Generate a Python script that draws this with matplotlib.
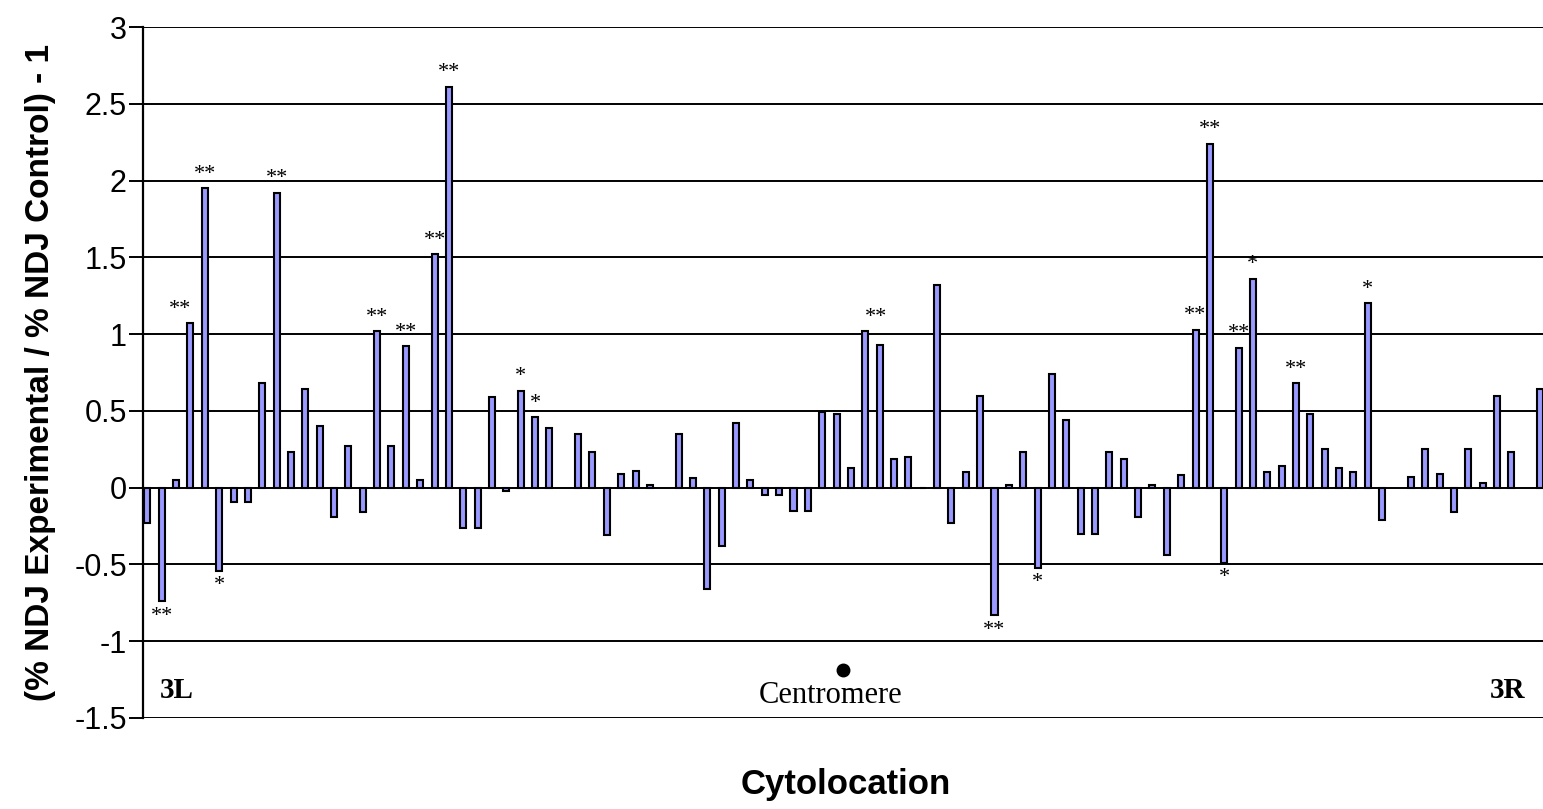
import numpy as np
import matplotlib
matplotlib.use("Agg")
import matplotlib.pyplot as plt

# one value per cytolocation slot, None = no data
values = [
    -0.23, -0.74, 0.05, 1.07, 1.95, -0.54, -0.09, -0.09, 0.68, 1.92,
    0.23, 0.64, 0.40, -0.19, 0.27, -0.16, 1.02, 0.27, 0.92, 0.05,
    1.52, 2.61, -0.26, -0.26, 0.59, -0.02, 0.63, 0.46, 0.39, None,
    0.35, 0.23, -0.31, 0.09, 0.11, 0.02, None, 0.35, 0.06, -0.66,
    -0.38, 0.42, 0.05, -0.05, -0.05, -0.15, -0.15, 0.49, 0.48, 0.13,
    1.02, 0.93, 0.19, 0.20, 0.00, 1.32, -0.23, 0.10, 0.60, -0.83,
    0.02, 0.23, -0.52, 0.74, 0.44, -0.30, -0.30, 0.23, 0.19, -0.19,
    0.02, -0.44, 0.08, 1.03, 2.24, -0.49, 0.91, 1.36, 0.10, 0.14,
    0.68, 0.48, 0.25, 0.13, 0.10, 1.20, -0.21, None, 0.07, 0.25,
    0.09, -0.16, 0.25, 0.03, 0.60, 0.23, None, 0.64,
]

# significance marks (slot index -> label)
signif = {
    1: "**", 3: "**", 4: "**", 5: "*", 9: "**", 16: "**", 18: "**",
    20: "**", 21: "**", 26: "*", 27: "*", 50: "**", 59: "**", 62: "*",
    73: "**", 74: "**", 75: "*", 76: "**", 77: "*", 80: "**", 85: "*",
}

yticks = [3, 2.5, 2, 1.5, 1, 0.5, 0, -0.5, -1, -1.5]
ytick_labels = ["3", "2.5", "2", "1.5", "1", "0.5", "0", "-0.5", "-1", "-1.5"]

sans = "Liberation Sans"
serif = "Liberation Serif"

fig = plt.figure(figsize=(15.43, 8.09), dpi=100)
ax = fig.add_axes([0.093, 0.1125, 0.907, 0.854])

x = np.array([i for i, v in enumerate(values) if v is not None])
h = np.array([v for v in values if v is not None])

ax.set_axisbelow(True)
for t in yticks:
    ax.axhline(t, color="black", lw=1.4, zorder=0)

ax.bar(x, h, width=0.42, color="#9999ff", edgecolor="black", linewidth=1.5, zorder=2)

# star labels just beyond the bar end
nudge = {3: -10, 50: 11}
for i, lab in signif.items():
    v = values[i]
    dy = 14 if v >= 0 else -15
    ax.annotate(lab, xy=(i, v), xytext=(nudge.get(i, 0), dy), textcoords="offset pixels",
                ha="center", va="center", fontsize=16, family=serif, zorder=3)

ax.set_xlim(-0.27, 97.2)
ax.set_ylim(-1.5, 3)
ax.set_yticks(yticks)
ax.set_yticklabels(ytick_labels, family=sans, fontsize=22)
ax.set_xticks([])
ax.tick_params(axis="y", direction="out", length=10, width=1.4, pad=2, colors="black")

for s in ["top", "right", "bottom"]:
    ax.spines[s].set_visible(False)
ax.spines["left"].set_linewidth(1.6)

ax.set_ylabel("(% NDJ Experimental / % NDJ Control) - 1", family=sans,
              fontsize=24, fontweight="bold", labelpad=13)
fig.text(0.548, 0.03, "Cytolocation", family=sans, fontsize=25, fontweight="bold",
         ha="center", va="center")

ax.text(0.024, 0.04, "3L", transform=ax.transAxes, family=serif, fontsize=21,
        fontweight="bold", ha="center", va="center")
ax.text(0.975, 0.04, "3R", transform=ax.transAxes, family=serif, fontsize=21,
        fontweight="bold", ha="center", va="center")
ax.text(0.491, 0.033, "Centromere", transform=ax.transAxes, family=serif, fontsize=22,
        ha="center", va="center")
ax.plot([0.5], [0.069], "o", color="black", markersize=9, transform=ax.transAxes)

fig.savefig("out.png", dpi=100)
